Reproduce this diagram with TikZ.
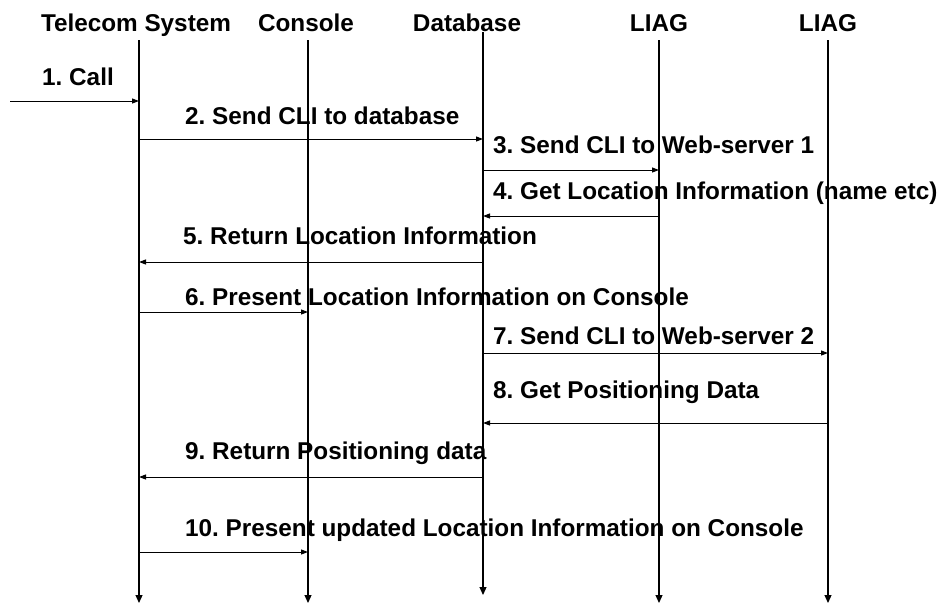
\documentclass[tikz,border=0pt]{standalone}
\usepackage{fontspec}
\setmainfont{Liberation Sans}
\usetikzlibrary{arrows.meta}
\frenchspacing

\begin{document}
\begin{tikzpicture}[x=1pt,y=-1pt,
  font=\fontsize{24.3}{28}\selectfont\bfseries,
  head/.style={anchor=base,inner sep=0pt},
  msglabel/.style={anchor=base west,inner sep=0pt},
  lifeline/.style={line width=1.2pt,-{Triangle[length=8pt,width=7pt]}},
  msg/.style={line width=1pt,-{Triangle[length=7pt,width=5pt]}}]
\useasboundingbox (0,0) rectangle (939,603);

% participants
\node[head] (ts)  at (136,31.5) {Telecom System};
\node[head] (con) at (306,31.5) {Console};
\node[head] (db)  at (467,31.5) {Database};
\node[head] (l1)  at (659,31.5) {LIAG};
\node[head] (l2)  at (828,31.5) {LIAG};

% lifeline ends
\coordinate (tsT) at (139,40);  \coordinate (tsB) at (139,603);
\coordinate (conT) at (308,40); \coordinate (conB) at (308,603);
\coordinate (dbT) at (483,32);  \coordinate (dbB) at (483,595);
\coordinate (l1T) at (659,40);  \coordinate (l1B) at (659,603);
\coordinate (l2T) at (828,40);  \coordinate (l2B) at (828,603);

\draw[lifeline] (tsT) -- (tsB);
\draw[lifeline] (conT) -- (conB);
\draw[lifeline] (dbT) -- (dbB);
\draw[lifeline] (l1T) -- (l1B);
\draw[lifeline] (l2T) -- (l2B);

% message end points
\coordinate (in) at (10,101);
\foreach \n/\y in {1/101,2/139,3/170,4/216,5/262,6/312,7/353,8/423,9/477,10/552}{
  \coordinate (ts\n) at (tsT |- 0,\y);
  \coordinate (con\n) at (conT |- 0,\y);
  \coordinate (db\n) at (dbT |- 0,\y);
  \coordinate (la\n) at (l1T |- 0,\y);
  \coordinate (lb\n) at (l2T |- 0,\y);
}

% messages
\draw[msg] (in) -- (ts1);
\node[msglabel] (t1) at (42,85) {1. Call};
\draw[msg] (ts2) -- (db2);
\node[msglabel] (t2) at (185,124.5) {2. Send CLI to database};
\draw[msg] (db3) -- (la3);
\node[msglabel] (t3) at (493,153.5) {3. Send CLI to Web-server 1};
\draw[msg] (la4) -- (db4);
\node[msglabel] (t4) at (493,199) {4. Get Location Information (name etc)};
\draw[msg] (db5) -- (ts5);
\node[msglabel] (t5) at (183,244.5) {5. Return Location Information};
\draw[msg] (ts6) -- (con6);
\node[msglabel] (t6) at (185,305) {6. Present Location Information on Console};
\draw[msg] (db7) -- (lb7);
\node[msglabel] (t7) at (493,344) {7. Send CLI to Web-server 2};
\draw[msg] (lb8) -- (db8);
\node[msglabel] (t8) at (493,398) {8. Get Positioning Data};
\draw[msg] (db9) -- (ts9);
\node[msglabel] (t9) at (185,459) {9. Return Positioning data};
\draw[msg] (ts10) -- (con10);
\node[msglabel] (t10) at (185,536) {10. Present updated Location Information on Console};
\end{tikzpicture}
\end{document}
